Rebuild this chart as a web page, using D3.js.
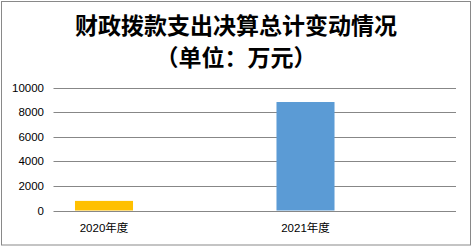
<!DOCTYPE html>
<html>
<head>
<meta charset="utf-8">
<script src="https://cdn.jsdelivr.net/npm/d3@7"></script>
<style>
  body { margin: 0; background: #fff; }
  text { font-family: "Liberation Sans", "Noto Sans CJK SC", sans-serif; }
  .title { font-family: "Noto Sans CJK SC", sans-serif; font-weight: bold; }
</style>
</head>
<body>
<div id="chart"></div>
<script>
const categories = ["2020年度", "2021年度"];
const values = [780, 8820];
const colors = ["#FFC000", "#5B9BD5"];
const yTicks = [0, 2000, 4000, 6000, 8000, 10000];
const titleLines = ["财政拨款支出决算总计变动情况", "（单位：万元）"];

const W = 472, H = 246;
const gridLeft = 53.5, gridRight = 456;

const svg = d3.select("#chart").append("svg")
    .attr("width", W)
    .attr("height", H);

svg.append("rect")
    .attr("x", 1.5).attr("y", 1.5)
    .attr("width", 469).attr("height", 243.5)
    .attr("fill", "#fff")
    .attr("stroke", "#898989");

const y = d3.scaleLinear().domain([0, 10000]).range([210.5, 87.5]);
const x = d3.scaleBand().domain(categories).range([3.25, 406.25]).paddingInner(0.712).paddingOuter(0.356);

// title
svg.selectAll(".title")
    .data(titleLines)
    .enter()
  .append("text")
    .attr("class", "title")
    .attr("x", 236)
    .attr("y", (d, i) => 34 + i * 32)
    .attr("text-anchor", "middle")
    .attr("font-size", 23)
    .text(d => d);

// grid lines
svg.selectAll(".grid")
    .data(yTicks)
    .enter()
  .append("line")
    .attr("x1", gridLeft).attr("x2", gridRight)
    .attr("y1", d => Math.round(y(d)) + 0.5)
    .attr("y2", d => Math.round(y(d)) + 0.5)
    .attr("stroke", "#878787");

svg.selectAll(".ytick")
    .data(yTicks)
    .enter()
  .append("text")
    .attr("x", 44)
    .attr("y", d => y(d))
    .attr("dy", "0.36em")
    .attr("text-anchor", "end")
    .attr("font-size", 11.5)
    .text(d => d);

svg.selectAll(".bar")
    .data(values)
    .enter()
  .append("rect")
    .attr("x", (d, i) => x(categories[i]))
    .attr("width", x.bandwidth())
    .attr("y", d => y(d))
    .attr("height", d => y(0) - y(d))
    .attr("fill", (d, i) => colors[i]);

svg.selectAll(".xlabel")
    .data(categories)
    .enter()
  .append("text")
    .attr("x", d => x(d) + x.bandwidth() / 2)
    .attr("y", 232)
    .attr("text-anchor", "middle")
    .attr("font-size", 11.5)
    .text(d => d);
</script>
</body>
</html>
